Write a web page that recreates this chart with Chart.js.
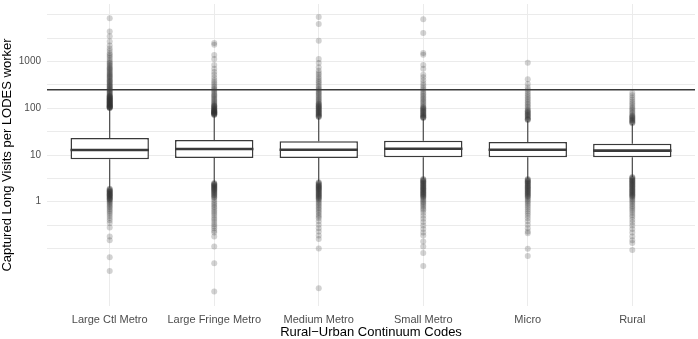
<!DOCTYPE html>
<html>
<head>
<meta charset="utf-8">
<script src="https://cdn.jsdelivr.net/npm/chart.js@4/dist/chart.umd.min.js"></script>
<style>
  html, body { margin: 0; padding: 0; background: #fff; }
  #wrap { width: 698px; height: 339px; }
</style>
</head>
<body>
<div id="wrap"><canvas id="myChart"></canvas></div>
<script>
// categories and box statistics (log scale)
const categories = ['Large Ctl Metro', 'Large Fringe Metro', 'Medium Metro', 'Small Metro', 'Micro', 'Rural'];
const q1 = [8.1, 8.6, 8.6, 8.9, 8.9, 8.9];
const medians = [12.8, 13.4, 13.0, 13.6, 13.0, 12.4];
const q3 = [23.1, 21.0, 19.6, 20.2, 19.0, 17.5];
const whiskerLow = [2.0, 2.6, 2.7, 3.1, 3.1, 3.4];
const whiskerHigh = [98, 70, 63, 60, 54, 46];

// outliers per category (upper ones, lower ones, then the extra crowded ones near the whiskers)
const outliers = [
  [8500, 4400, 3500, 2700, 2200, 1900, 1700, 1500, 1400, 1300, 1200, 1100, 1000, 950, 900, 850, 800, 760, 720, 690,
   660, 630, 600, 570, 540, 520, 500, 480, 460, 440, 420, 400, 385, 370, 355, 340, 325, 310, 300, 290, 280, 270, 260,
   250, 240, 232, 224, 216, 208, 200, 193, 186, 180, 174, 168, 162, 157, 152, 147, 142, 138, 134, 130, 126, 122, 118,
   115, 112, 109, 106, 103, 101,
   1.9, 1.8, 1.72, 1.65, 1.58, 1.5, 1.44, 1.38, 1.32, 1.26, 1.2, 1.15, 1.1, 1.05, 1.0, 0.95, 0.9, 0.85, 0.8, 0.75,
   0.7, 0.65, 0.6, 0.55, 0.5, 0.45, 0.4, 0.35, 0.28, 0.18, 0.15, 0.065, 0.033,
   102, 104, 105, 108, 110, 113, 117, 120, 124, 128, 132, 136, 140, 145, 150, 155, 160, 165, 171, 177, 183,
   1.87, 1.76, 1.68, 1.61, 1.54, 1.47, 1.41, 1.35, 1.29, 1.23, 1.17, 1.12],
  [2500, 2300, 1380, 1130, 850, 700, 600, 520, 450, 400, 360, 330, 300, 280, 260, 245, 230, 215, 200, 190, 180, 170,
   160, 152, 144, 137, 130, 124, 118, 112, 107, 102, 97, 93, 89, 85, 82, 79, 76, 74, 72,
   2.5, 2.4, 2.3, 2.2, 2.1, 2.0, 1.9, 1.8, 1.7, 1.6, 1.5, 1.4, 1.3, 1.2, 1.1, 1.0, 0.92, 0.85, 0.78, 0.72, 0.66,
   0.6, 0.55, 0.5, 0.45, 0.41, 0.37, 0.33, 0.3, 0.27, 0.24, 0.22, 0.18, 0.11, 0.048, 0.012,
   73, 75, 77, 78, 80, 81, 83, 84, 87, 88, 91, 95, 99, 105, 110, 115,
   2.45, 2.35, 2.25, 2.15, 2.05, 1.95, 1.85, 1.75, 1.65, 1.55, 1.45, 1.35, 1.25],
  [9000, 6400, 2800, 1130, 930, 760, 640, 570, 520, 470, 430, 390, 360, 330, 300, 280, 260, 245, 230, 216, 204, 192,
   181, 171, 161, 152, 144, 136, 128, 121, 114, 108, 102, 96, 91, 86, 81, 77, 73, 69, 65,
   2.6, 2.45, 2.3, 2.2, 2.1, 2.0, 1.9, 1.8, 1.7, 1.6, 1.5, 1.42, 1.34, 1.26, 1.18, 1.1, 1.03, 0.96, 0.9, 0.84, 0.78,
   0.72, 0.67, 0.62, 0.57, 0.52, 0.48, 0.44, 0.38, 0.32, 0.27, 0.23, 0.19, 0.16, 0.1, 0.014,
   66, 67, 71, 75, 79, 83, 88, 93, 99, 105, 111, 118, 125,
   2.55, 2.38, 2.25, 2.15, 2.05, 1.95, 1.85, 1.75, 1.65, 1.55, 1.46, 1.38, 1.3, 1.22, 1.14],
  [8100, 4100, 1530, 1400, 850, 700, 520, 460, 400, 350, 310, 280, 255, 235, 215, 200, 186, 173, 161, 150, 140, 131,
   122, 114, 107, 100, 94, 88, 83, 78, 73, 69, 65, 62,
   3.06, 2.9, 2.75, 2.6, 2.45, 2.3, 2.18, 2.06, 1.95, 1.84, 1.74, 1.64, 1.55, 1.46, 1.38, 1.3, 1.22, 1.15, 1.08,
   1.01, 0.95, 0.89, 0.83, 0.77, 0.71, 0.66, 0.58, 0.5, 0.43, 0.37, 0.31, 0.26, 0.22, 0.19, 0.14, 0.11, 0.08, 0.042,
   63, 64, 67, 71, 75, 80, 85, 91, 97, 104,
   2.98, 2.82, 2.67, 2.52, 2.38, 2.24, 2.12, 2.0, 1.9, 1.79, 1.69, 1.6, 1.5, 1.42, 1.34, 1.26],
  [946, 420, 330, 280, 250, 225, 205, 188, 172, 158, 146, 135, 125, 116, 108, 100, 93, 86, 80, 75, 70, 65, 60, 56,
   3.06, 2.9, 2.75, 2.6, 2.45, 2.3, 2.17, 2.05, 1.93, 1.82, 1.71, 1.61, 1.51, 1.42, 1.33, 1.25, 1.17, 1.1, 1.03,
   0.96, 0.89, 0.82, 0.75, 0.68, 0.62, 0.56, 0.5, 0.44, 0.38, 0.32, 0.27, 0.23, 0.21, 0.098, 0.069,
   57, 58, 62, 67, 72, 77, 83, 89,
   2.98, 2.82, 2.67, 2.52, 2.38, 2.23, 2.11, 1.99, 1.87, 1.76, 1.66, 1.56, 1.46, 1.37, 1.29],
  [213, 190, 170, 155, 140, 128, 118, 108, 100, 94, 88, 82, 77, 72, 67, 63, 59, 55, 52, 48,
   3.37, 3.2, 3.0, 2.85, 2.7, 2.55, 2.4, 2.27, 2.14, 2.02, 1.9, 1.79, 1.69, 1.59, 1.5, 1.41, 1.33, 1.25, 1.17, 1.1,
   1.03, 0.96, 0.89, 0.82, 0.76, 0.7, 0.64, 0.58, 0.52, 0.47, 0.41, 0.36, 0.31, 0.26, 0.22, 0.18, 0.15, 0.13, 0.092,
   49, 50, 54, 57, 61, 65, 69,
   3.3, 3.1, 2.92, 2.78, 2.62, 2.47, 2.33, 2.2, 2.08, 1.96, 1.84, 1.74, 1.64, 1.54, 1.45, 1.37, 1.29]
];

const refLine = 250;
const yGrid = [0.1, 0.316, 1, 3.16, 10, 31.6, 100, 316, 1000, 3162, 10000];
const yLabels = [1, 10, 100, 1000];

Chart.defaults.font.family = "'Liberation Sans', Arial, sans-serif";

const boxColor = '#3a3a3a';

// whiskers and medians drawn with the chart's scales
const boxExtras = {
  id: 'boxExtras',
  beforeDatasetsDraw(chart) {
    const ctx = chart.ctx, x = chart.scales.x, y = chart.scales.y;
    ctx.save();
    ctx.strokeStyle = boxColor;
    ctx.lineWidth = 1.1;
    for (let i = 0; i < categories.length; i++) {
      const px = x.getPixelForValue(i);
      ctx.beginPath();
      ctx.moveTo(px, y.getPixelForValue(whiskerHigh[i]));
      ctx.lineTo(px, y.getPixelForValue(q3[i]));
      ctx.moveTo(px, y.getPixelForValue(q1[i]));
      ctx.lineTo(px, y.getPixelForValue(whiskerLow[i]));
      ctx.stroke();
    }
    ctx.restore();
  },
  afterDatasetsDraw(chart) {
    const ctx = chart.ctx, x = chart.scales.x, y = chart.scales.y;
    const half = (x.getPixelForValue(1) - x.getPixelForValue(0)) * 0.75 / 2;
    ctx.save();
    ctx.strokeStyle = boxColor;
    ctx.lineWidth = 2.6;
    for (let i = 0; i < categories.length; i++) {
      const px = x.getPixelForValue(i);
      const py = y.getPixelForValue(medians[i]);
      ctx.beginPath();
      ctx.moveTo(px - half, py);
      ctx.lineTo(px + half, py);
      ctx.stroke();
    }
    ctx.restore();
  }
};

const datasets = [
  {
    type: 'line',
    data: [{x: -0.6, y: refLine}, {x: 5.6, y: refLine}],
    borderColor: '#3a3a3a',
    borderWidth: 1.5,
    pointRadius: 0
  },
  {
    type: 'bar',
    data: categories.map((c, i) => ({x: i, y: [q1[i], q3[i]]})),
    backgroundColor: '#ffffff',
    borderColor: boxColor,
    borderWidth: 1.5,
    borderSkipped: false,
    barPercentage: 0.75,
    categoryPercentage: 1
  }
];

outliers.forEach((vals, i) => {
  datasets.push({
    type: 'scatter',
    data: vals.map(v => ({x: i, y: v})),
    pointRadius: 3,
    pointBackgroundColor: 'rgba(51,51,51,0.22)',
    pointBorderWidth: 0,
    pointHoverRadius: 3
  });
});

const myChart = new Chart(document.getElementById('myChart'), {
  type: 'bar',
  data: { datasets: datasets },
  options: {
    responsive: true,
    maintainAspectRatio: false,
    animation: false,
    layout: { padding: { top: 4, right: 0, left: 0, bottom: 0 } },
    plugins: {
      legend: { display: false },
      tooltip: { enabled: false }
    },
    scales: {
      x: {
        type: 'linear',
        min: -0.6,
        max: 5.6,
        offset: false,
        bounds: 'data',
        afterBuildTicks: s => { s.ticks = categories.map((c, i) => ({value: i})); },
        afterFit: s => { s.height = 33; s.paddingLeft = 0; s.paddingRight = 0; },
        ticks: {
          callback: v => categories[v],
          color: '#4d4d4d',
          font: { size: 11 },
          padding: 7,
          maxRotation: 0,
          autoSkip: false
        },
        grid: { color: '#ebebeb', drawTicks: false, offset: false },
        border: { display: false },
        title: {
          display: true,
          text: 'Rural\u2212Urban Continuum Codes',
          color: '#000',
          font: { size: 13, lineHeight: 1 },
          padding: { top: 0, bottom: 0 }
        }
      },
      y: {
        type: 'logarithmic',
        min: 0.00585,
        max: 17100,
        bounds: 'data',
        afterBuildTicks: s => { s.ticks = yGrid.map(v => ({value: v})); },
        afterFit: s => { s.width = 47; s.paddingTop = 0; s.paddingBottom = 0; },
        ticks: {
          callback: v => yLabels.includes(v) ? String(v) : '',
          color: '#4d4d4d',
          font: { size: 10 },
          padding: 6,
          autoSkip: false
        },
        grid: { color: '#ebebeb', drawTicks: false },
        border: { display: false },
        title: {
          display: true,
          text: 'Captured Long Visits per LODES worker',
          color: '#000',
          font: { size: 13 },
          padding: { top: 0, bottom: 0 }
        }
      }
    }
  },
  plugins: [boxExtras]
});
</script>
</body>
</html>
